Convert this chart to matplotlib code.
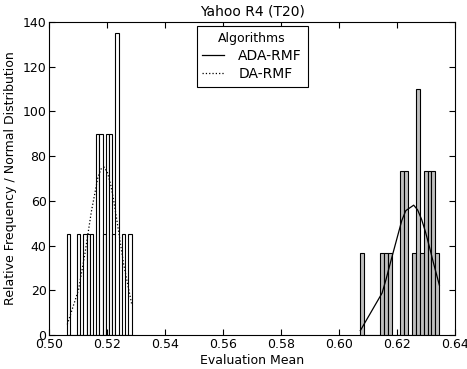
import numpy as np
import matplotlib
matplotlib.use('Agg')
import matplotlib.pyplot as plt

# evaluation means per run
ada_rmf = [0.6074, 0.61491, 0.61627, 0.61764, 0.62170, 0.62176, 0.62308, 0.62312,
           0.62583, 0.62716, 0.62719, 0.62722, 0.62856, 0.62990, 0.62994,
           0.63127, 0.63131, 0.63263, 0.63267, 0.6347]
da_rmf = [0.5062, 0.51009, 0.51231, 0.51342, 0.51453, 0.51673, 0.51677, 0.51784,
          0.51788, 0.51897, 0.52006, 0.52010, 0.52117, 0.52121, 0.52230,
          0.52339, 0.52341, 0.52343, 0.52563, 0.5284]

title = 'Yahoo R4 (T20)'
xticks = [0.50, 0.52, 0.54, 0.56, 0.58, 0.60, 0.62, 0.64]
yticks = [0, 20, 40, 60, 80, 100, 120, 140]


def normal(x, mu, sd):
    return np.exp(-(x - mu) ** 2 / (2 * sd ** 2)) / (sd * np.sqrt(2 * np.pi))


plt.rcParams['font.family'] = 'DejaVu Sans'
plt.rcParams['font.size'] = 9
plt.rcParams['xtick.direction'] = 'in'
plt.rcParams['ytick.direction'] = 'in'
plt.rcParams['xtick.top'] = True
plt.rcParams['ytick.right'] = True

fig = plt.figure(figsize=(4.67, 3.69), dpi=100)
ax = fig.add_axes([0.1056, 0.0921, 0.8681, 0.8483])

a = np.sort(np.array(ada_rmf))
d = np.sort(np.array(da_rmf))

ax.hist(a, bins=20, density=True, facecolor='#bfbfbf', edgecolor='black', linewidth=0.8)
ax.hist(d, bins=20, density=True, facecolor='white', edgecolor='black', linewidth=0.8)

ax.plot(a, normal(a, a.mean(), a.std()), color='black', linestyle='-', linewidth=0.9, label='ADA-RMF')
ax.plot(d, normal(d, d.mean(), d.std()), color='black', linestyle=':', linewidth=0.9, label='DA-RMF')

ax.set_xlim(0.50, 0.64)
ax.set_ylim(0, 140)
ax.set_xticks(xticks)
ax.set_xticklabels(['%.2f' % t for t in xticks])
ax.set_yticks(yticks)
ax.tick_params(length=4, width=0.8, pad=2)
ax.set_title(title, fontsize=10, pad=5)
ax.set_xlabel('Evaluation Mean', fontsize=9, labelpad=2)
ax.set_ylabel('Relative Frequency / Normal Distribution', fontsize=9, labelpad=4)

leg = ax.legend(loc='upper center', title='Algorithms', fontsize=10, title_fontsize=9,
                fancybox=False, framealpha=1, edgecolor='black', handlelength=1.6,
                handletextpad=1.0, borderaxespad=0.3, labelspacing=0.3,
                bbox_to_anchor=(0.5, 1.0))
leg.get_frame().set_linewidth(0.8)

fig.savefig('out.png', dpi=100)
